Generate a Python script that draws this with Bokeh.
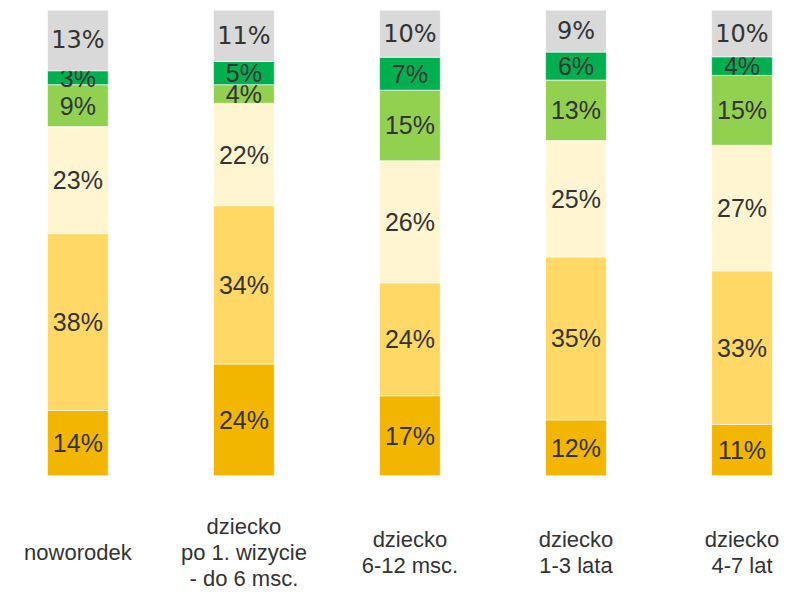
import numpy as np
from bokeh.plotting import figure
from bokeh.models import ColumnDataSource, Range1d
from bokeh.core.properties import value
from bokeh.embed import file_html
from bokeh.resources import INLINE

categories = ["noworodek", "dziecko\npo 1. wizycie\n- do 6 msc.", "dziecko\n6-12 msc.",
              "dziecko\n1-3 lata", "dziecko\n4-7 lat"]
# segments from bottom to top
seg1 = [14, 24, 17, 12, 11]
seg2 = [38, 34, 24, 35, 33]
seg3 = [23, 22, 26, 25, 27]
seg4 = [9, 4, 15, 13, 15]
seg5 = [3, 5, 7, 6, 4]
seg6 = [13, 11, 10, 9, 10]

series = [seg1, seg2, seg3, seg4, seg5, seg6]
colors = ["#F2B600", "#FFD865", "#FFF6D1", "#92D050", "#00B050", "#D9D9D9"]
fonts = ["Liberation Sans"] * 5 + ["DejaVu Sans"]
sizes = ["25px"] * 5 + ["24px"]

p = figure(width=784, height=594, output_backend="svg", toolbar_location=None,
           x_range=Range1d(-0.466, 4.256), y_range=Range1d(-25.52, 102.09),
           min_border=0)
p.axis.visible = False
p.grid.visible = False
p.outline_line_color = None
p.background_fill_color = "white"
p.border_fill_color = "white"

vals = np.array(series, dtype=float)
totals = vals.sum(axis=0)
norm = vals / totals * 100.0
tops = np.cumsum(norm, axis=0)
bottoms = tops - norm
xs = np.arange(len(categories))

for i in range(len(series)):
    src = ColumnDataSource(dict(x=xs, bottom=bottoms[i], top=tops[i],
                                mid=(bottoms[i] + tops[i]) / 2,
                                lab=[f"{v}%" for v in series[i]]))
    p.vbar(x="x", width=0.366, bottom="bottom", top="top", source=src,
           fill_color=colors[i], line_color="white", line_alpha=0.6, line_width=1)
    p.text(x="x", y="mid", text="lab", source=src, text_align="center",
           text_baseline="middle", text_font=value(fonts[i]), text_font_size=sizes[i],
           text_color="#333333")

# category labels
lx, ly, lt = [], [], []
center = -16.5
spacing = 5.5
for j, c in enumerate(categories):
    lines = c.split("\n")
    n = len(lines)
    for k, ln in enumerate(lines):
        lx.append(xs[j])
        ly.append(center - (k - (n - 1) / 2) * spacing)
        lt.append(ln)
p.text(x=lx, y=ly, text=lt, text_align="center", text_baseline="middle",
       text_font=value("Liberation Sans"), text_font_size="22px", text_color="#333333")

open("out.html", "w").write(file_html(p, INLINE))
